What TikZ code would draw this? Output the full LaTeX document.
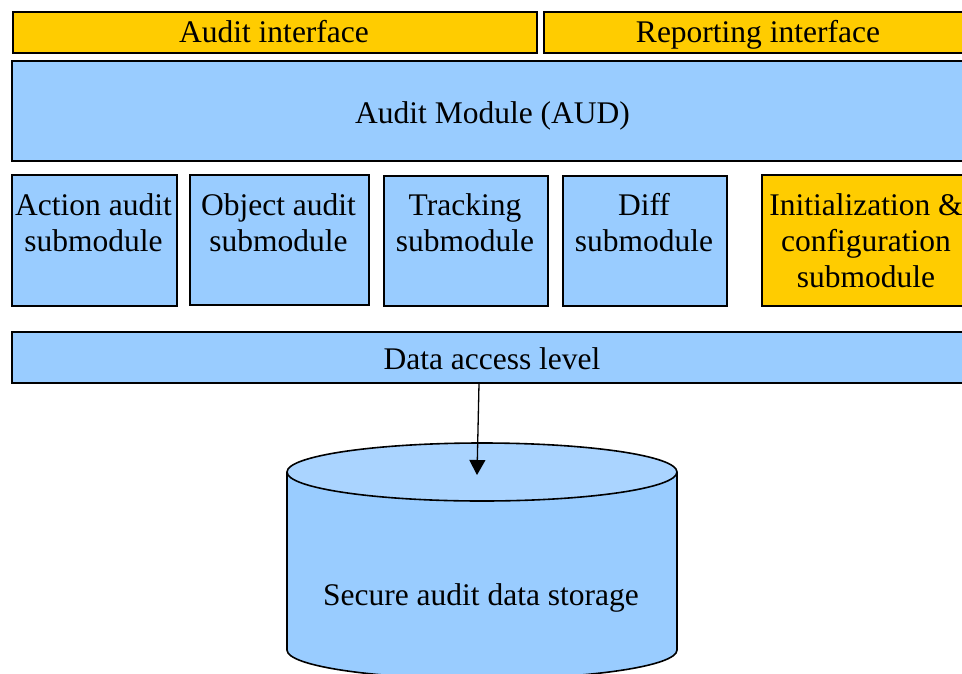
\documentclass[tikz,border=0pt]{standalone}
\usepackage{fontspec}
\setmainfont{Liberation Serif}
\usetikzlibrary{arrows.meta}
\definecolor{panelblue}{HTML}{99CCFF}
\definecolor{panelgold}{HTML}{FFCC00}
\definecolor{dbtopfill}{HTML}{AAD4FF}
\tikzset{
  box/.style={draw=black, line width=1.6pt, rectangle, inner sep=0pt, anchor=north west},
  bluebox/.style={box, fill=panelblue},
  goldbox/.style={box, fill=panelgold},
  lbl/.style={inner sep=0pt, font=\fontsize{31.5}{36}\selectfont, align=center},
}
\begin{document}
\begin{tikzpicture}[x=1pt, y=-1pt]
\useasboundingbox (0,0) rectangle (962,673);
\clip (0,0) rectangle (962,673);

% interface bars
\node[goldbox, minimum width=524pt, minimum height=41pt] (ai) at (12,11) {};
\node[goldbox, minimum width=430pt, minimum height=41pt] (ri) at (543,11) {};
\node[lbl, anchor=base] (aiT) at (274,42) {Audit interface};
\node[lbl, anchor=base] (riT) at (758,42) {Reporting interface};

% audit module
\node[bluebox, minimum width=962pt, minimum height=100pt] (aud) at (11,60) {};
\node[lbl, anchor=base] (audT) at (492.5,123) {Audit Module (AUD)};

% submodules
\node[bluebox, minimum width=165pt, minimum height=131pt] (act) at (11,174) {};
\node[bluebox, minimum width=179pt, minimum height=130pt] (obj) at (189,174) {};
\node[bluebox, minimum width=164pt, minimum height=130pt] (trk) at (383,175) {};
\node[bluebox, minimum width=164pt, minimum height=130pt] (dif) at (562,175) {};
\node[goldbox, minimum width=210pt, minimum height=131pt] (ini) at (761,174) {};
\node[lbl, anchor=north] (actT) at (93.5,193.5) {Action audit\\submodule};
\node[lbl, anchor=north] (objT) at (278.5,193.5) {Object audit\\submodule};
\node[lbl, anchor=north] (trkT) at (465,193.5) {Tracking\\submodule};
\node[lbl, anchor=north] (difT) at (644,193.5) {Diff\\submodule};
\node[lbl, anchor=north] (iniT) at (866,193.5) {Initialization \&\\configuration\\submodule};

% data access level
\node[bluebox, minimum width=962pt, minimum height=51pt] (dal) at (11,331) {};
\node[lbl, anchor=base] (dalT) at (492,369) {Data access level};

% storage cylinder
\fill[panelblue] (287,472) -- (287,650)
  arc[start angle=180, end angle=0, x radius=195, y radius=29] -- (677,472) -- cycle;
\draw[line width=1.6pt] (287,472) -- (287,650)
  arc[start angle=180, end angle=0, x radius=195, y radius=29] -- (677,472);
\draw[line width=1.6pt, fill=dbtopfill] (482,472) ellipse[x radius=195, y radius=29];
\node[lbl, anchor=base] (store) at (481,605) {Secure audit data storage};
\coordinate (dbtop) at (477,475);

% access path
\coordinate (tap) at (dal.south -| 479,0);
\draw[line width=1.3pt, -{Triangle[length=15pt, width=16pt]}] (tap) -- (dbtop);
\end{tikzpicture}
\end{document}
